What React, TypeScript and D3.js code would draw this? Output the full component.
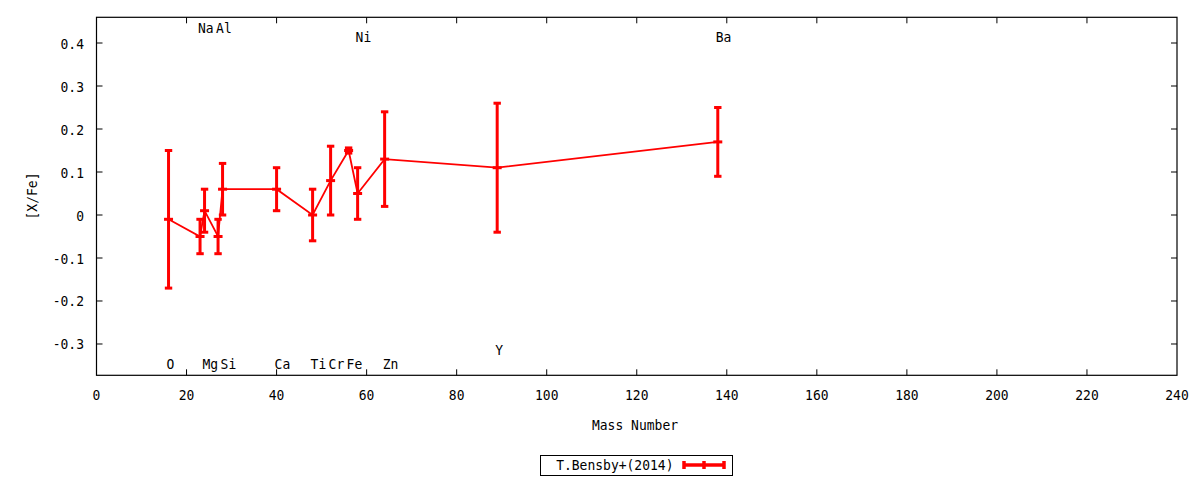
import * as d3 from 'd3'
import type { ReactNode } from 'react'

// T.Bensby+(2014) abundance pattern
const ELEMENTS = ['O', 'Na', 'Mg', 'Al', 'Si', 'Ca', 'Ti', 'Cr', 'Fe', 'Ni', 'Zn', 'Y', 'Ba']
const MASS     = [16, 23, 24, 27, 28, 40, 48, 52, 56, 58, 64, 89, 138]
const XFE      = [-0.01, -0.05, 0.01, -0.05, 0.06, 0.06, 0.0, 0.08, 0.15, 0.05, 0.13, 0.11, 0.17]
const ERR      = [0.16, 0.04, 0.05, 0.04, 0.06, 0.05, 0.06, 0.08, 0.006, 0.06, 0.11, 0.15, 0.08]
// where the element names sit, in [X/Fe] units
const LABEL_Y  = [-0.346, 0.437, -0.346, 0.437, -0.346, -0.346, -0.346, -0.346, -0.346, 0.414, -0.346, -0.313, 0.414]

const X_TICKS = d3.range(0, 241, 20)
const Y_TICKS = [-0.3, -0.2, -0.1, 0, 0.1, 0.2, 0.3, 0.4]

const W = 1200, H = 480
const FONT = '"DejaVu Sans Mono", monospace'
const RED = '#ff0000'

// gnuplot's font is a bit taller than DejaVu Sans Mono, stretch it a little
function T({ x, y, anchor = 'start', rot = 0, children }: { x: number, y: number, anchor?: string, rot?: number, children: ReactNode }) {
  return (
    <text transform={`translate(${x},${y}) rotate(${rot}) scale(1,1.12)`} textAnchor={anchor as any}>{children}</text>
  )
}

export default function App() {
  const x = d3.scaleLinear().domain([0, 240]).range([96.5, 1177])
  const y = d3.scaleLinear().domain([-0.3728, 0.4598]).range([375.3, 17.3])
  const [x0, x1] = x.range()
  const [y0, y1] = y.range()

  const pts = MASS.map((m, i) => ({ m, v: XFE[i], e: ERR[i], name: ELEMENTS[i], ly: LABEL_Y[i] }))
  const line = d3.line<typeof pts[number]>().x(p => x(p.m)).y(p => y(p.v))

  const tl = 6
  const cap = 3.7

  return (
    <svg width={W} height={H} style={{ position: 'absolute', left: 0, top: 0, background: '#fff' }}
      fontFamily={FONT} fontSize={13}>
      {/* frame */}
      <rect x={x0} y={y1} width={x1 - x0} height={y0 - y1} fill="none" stroke="#000" strokeWidth={1.2} />

      {/* x ticks, mirrored on top */}
      {X_TICKS.map(t => (
        <g key={'x' + t}>
          {t > 0 && t < 240 && <>
            <line x1={x(t)} x2={x(t)} y1={y0} y2={y0 - tl} stroke="#000" />
            <line x1={x(t)} x2={x(t)} y1={y1} y2={y1 + tl} stroke="#000" />
          </>}
          <T x={x(t)} y={400} anchor="middle">{t}</T>
        </g>
      ))}

      {/* y ticks, mirrored on the right */}
      {Y_TICKS.map(t => (
        <g key={'y' + t}>
          <line x1={x0} x2={x0 + tl} y1={y(t)} y2={y(t)} stroke="#000" />
          <line x1={x1} x2={x1 - tl} y1={y(t)} y2={y(t)} stroke="#000" />
          <T x={84} y={y(t) + 5.5} anchor="end">{t === 0 ? '0' : t.toFixed(1)}</T>
        </g>
      ))}

      <T x={635} y={430} anchor="middle">Mass Number</T>
      <T x={37} y={196} anchor="middle" rot={-90}>[X/Fe]</T>

      {/* element names */}
      {pts.map(p => (
        <T key={'l' + p.name} x={x(p.m) - 2} y={y(p.ly) + 5.5}>{p.name}</T>
      ))}

      {/* connecting line */}
      <path d={line(pts) ?? ''} fill="none" stroke={RED} strokeWidth={1.8} />

      {/* error bars */}
      {pts.map(p => {
        const cx = x(p.m)
        return (
          <g key={'e' + p.name} stroke={RED} strokeWidth={3}>
            <line x1={cx} x2={cx} y1={y(p.v + p.e)} y2={y(p.v - p.e)} />
            <line x1={cx - cap} x2={cx + cap} y1={y(p.v + p.e)} y2={y(p.v + p.e)} />
            <line x1={cx - cap} x2={cx + cap} y1={y(p.v - p.e)} y2={y(p.v - p.e)} />
            <line x1={cx - 4.5} x2={cx + 4.5} y1={y(p.v)} y2={y(p.v)} />
          </g>
        )
      })}

      {/* legend */}
      <rect x={540.5} y={455.5} width={192} height={20} fill="none" stroke="#000" strokeWidth={1} />
      <T x={673.5} y={470} anchor="end">T.Bensby+(2014)</T>
      <g stroke={RED} strokeWidth={3.5}>
        <line x1={684} x2={724} y1={465} y2={465} />
        <line x1={684} x2={684} y1={461} y2={469} />
        <line x1={724} x2={724} y1={461} y2={469} />
        <line x1={704} x2={704} y1={461} y2={469} />
      </g>
    </svg>
  )
}
